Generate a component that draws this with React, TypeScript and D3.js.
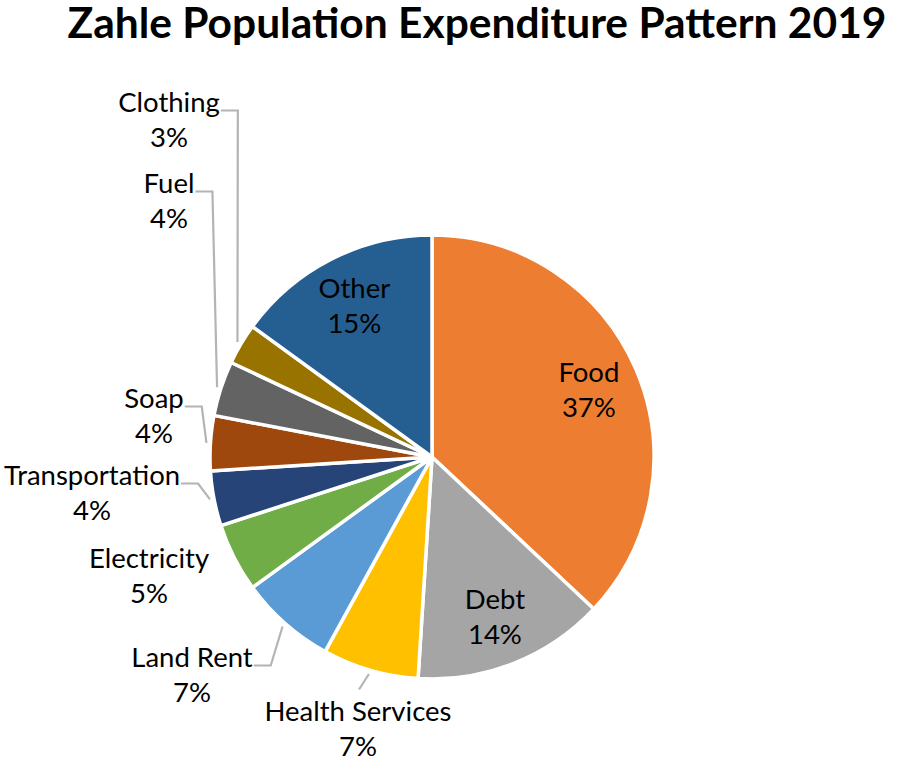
import React, { useEffect } from "react"
import * as d3 from "d3"

// expenditure share by category (percent)
const categories = ["Food", "Debt", "Health Services", "Land Rent", "Electricity", "Transportation", "Soap", "Fuel", "Clothing", "Other"]
const shares = [37, 14, 7, 7, 5, 4, 4, 4, 3, 15]
const sliceColors = ["#ED7D31", "#A5A5A5", "#FFC000", "#5B9BD5", "#70AD47", "#264478", "#9E480E", "#636363", "#997300", "#255E91"]

// where Excel put the outside labels, relative to pie centre
const outsideLabels: Record<string, { dx: number; dy: number; leader: string }> = {
  "Health Services": { dx: -74, dy: 271, leader: "top" },
  "Land Rent": { dx: -240, dy: 217, leader: "side" },
  "Electricity": { dx: -283, dy: 118, leader: "none" },
  "Transportation": { dx: -340, dy: 35, leader: "side" },
  "Soap": { dx: -278, dy: -42, leader: "side" },
  "Fuel": { dx: -263, dy: -257, leader: "side" },
  "Clothing": { dx: -263, dy: -338, leader: "side" },
}

const W = 898
const H = 766
const cx = 432
const cy = 457
const radius = 222
const FONT = "Lato, 'Open Sans', sans-serif"
const labelSize = 27.5

const measure = (() => {
  const ctx = document.createElement("canvas").getContext("2d")
  return (s: string) => {
    if (!ctx) return s.length * labelSize * 0.5
    ctx.font = `${labelSize}px Lato`
    return ctx.measureText(s).width
  }
})()

const App = () => {
  useEffect(() => {
    document.body.style.margin = "0"
  }, [])

  const pie = d3.pie<number>().sort(null).value(d => d)
  const arcs = pie(shares)
  const arc = d3.arc<d3.PieArcDatum<number>>().innerRadius(0).outerRadius(radius)
  const inner = d3.arc<d3.PieArcDatum<number>>().innerRadius(radius * 0.77).outerRadius(radius * 0.77)

  const pointAt = (a: number, r: number) => [Math.sin(a) * r, -Math.cos(a) * r]

  return (
    <svg width={W} height={H} style={{ display: "block", background: "#fff" }} fontFamily={FONT}>
      <text x={477} y={38} textAnchor="middle" fontSize={42.5} fontWeight={700} fill="#000">
        Zahle Population Expenditure Pattern 2019
      </text>
      <g transform={`translate(${cx},${cy})`}>
        {arcs.map((d, i) => (
          <path key={categories[i]} d={arc(d) || ""} fill={sliceColors[i]} stroke="#fff" strokeWidth={3.5} strokeLinejoin="round" />
        ))}
        {arcs.map((d, i) => {
          const name = categories[i]
          const pct = `${shares[i]}%`
          const lay = outsideLabels[name]
          if (!lay) {
            const [x, y] = inner.centroid(d)
            return (
              <g key={name} fontSize={labelSize} textAnchor="middle" fill="#000">
                <text x={x} y={y - 17.5} dominantBaseline="central">{name}</text>
                <text x={x} y={y + 17.5} dominantBaseline="central">{pct}</text>
              </g>
            )
          }
          const mid = (d.startAngle + d.endAngle) / 2
          const [ax, ay] = pointAt(mid, radius + 4)
          const nameY = lay.dy - 17.5
          let leader = ""
          if (lay.leader === "side") {
            const right = lay.dx + measure(name) / 2 + 1
            const ly = nameY + 9
            leader = `M${right},${ly}L${right + 17},${ly}L${ax},${ay}`
          } else if (lay.leader === "top") {
            leader = `M${lay.dx + 1},${nameY - 21}L${ax},${ay}`
          }
          return (
            <g key={name}>
              {leader && <path d={leader} fill="none" stroke="#B4B4B4" strokeWidth={2.2} />}
              <g fontSize={labelSize} textAnchor="middle" fill="#000">
                <text x={lay.dx} y={nameY} dominantBaseline="central">{name}</text>
                <text x={lay.dx} y={lay.dy + 17.5} dominantBaseline="central">{pct}</text>
              </g>
            </g>
          )
        })}
      </g>
    </svg>
  )
}

export default App
